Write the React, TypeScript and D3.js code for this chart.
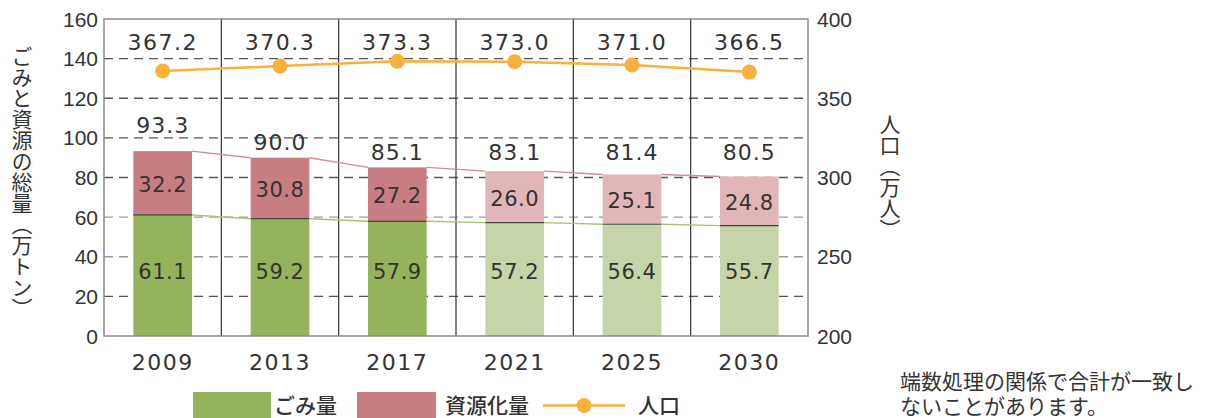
import React from 'react';
import * as d3 from 'd3';

const categories = ['2009', '2013', '2017', '2021', '2025', '2030'];
const gomi = [61.1, 59.2, 57.9, 57.2, 56.4, 55.7];
const shigen = [32.2, 30.8, 27.2, 26.0, 25.1, 24.8];
const totals = [93.3, 90.0, 85.1, 83.1, 81.4, 80.5];
const population = [367.2, 370.3, 373.3, 373.0, 371.0, 366.5];
const projected = [false, false, false, true, true, true];
const leftTicks = [0, 20, 40, 60, 80, 100, 120, 140, 160];
const rightTicks = [200, 250, 300, 350, 400];

const W = 1215, H = 418;
const M = { left: 104, right: 808, top: 19, bottom: 336 };

const C = {
  green: '#95b35b', greenLight: '#c5d5a7',
  red: '#c87d82', redLight: '#e2b6b8',
  orange: '#f9b13c', text: '#333333',
};

const NUM = '"DejaVu Sans", sans-serif';
const AX = '"Liberation Sans", Arial, sans-serif';
const JP = '"Noto Sans CJK JP", sans-serif';

export default function App() {
  const x = d3.scaleBand<string>().domain(categories).range([M.left, M.right]).paddingInner(0.5).paddingOuter(0.25);
  const y = d3.scaleLinear().domain([0, 160]).range([M.bottom, M.top]);
  const yR = d3.scaleLinear().domain([200, 400]).range([M.bottom, M.top]);
  const bw = x.bandwidth();
  const step = x.step();
  const cx = (c: string) => (x(c) as number) + bw / 2;

  const popLine = d3.line<number>().x((_, i) => cx(categories[i])).y(d => yR(d));

  const totalLabelY = (t: number) => {
    const base = Math.min(y(t) - 15, 152);
    const g = y(100);
    return Math.abs(base - g) < 3 ? g - 12 : base;
  };

  return (
    <svg width={W} height={H} style={{ position: 'absolute', left: 0, top: 0, background: '#fff' }}>
      {/* gridlines */}
      {leftTicks.filter(t => t > 0 && t < 160).map(t => (
        <line key={t} x1={M.left} x2={M.right} y1={y(t)} y2={y(t)}
          stroke={t === 40 || t === 60 ? '#999' : '#555'} strokeWidth={1.3} strokeDasharray="9,6" />
      ))}
      {/* separators */}
      {categories.slice(1).map(c => (
        <line key={c} x1={(x(c) as number) - (step - bw) / 2} x2={(x(c) as number) - (step - bw) / 2}
          y1={M.top} y2={M.bottom} stroke="#333" strokeWidth={1.2} />
      ))}
      {/* bars */}
      {categories.map((c, i) => (
        <g key={c}>
          <rect x={x(c)} width={bw} y={y(gomi[i])} height={y(0) - y(gomi[i])}
            fill={projected[i] ? C.greenLight : C.green} />
          <rect x={x(c)} width={bw} y={y(gomi[i] + shigen[i])} height={y(gomi[i]) - y(gomi[i] + shigen[i])}
            fill={projected[i] ? C.redLight : C.red} />
          <line x1={x(c)} x2={(x(c) as number) + bw} y1={y(gomi[i])} y2={y(gomi[i])} stroke="#444" strokeWidth={1.2} />
        </g>
      ))}
      {/* connectors */}
      {categories.slice(0, -1).map((c, i) => {
        const n = categories[i + 1];
        return (
          <g key={c}>
            <line x1={(x(c) as number) + bw} x2={x(n)} y1={y(gomi[i] + shigen[i])} y2={y(gomi[i + 1] + shigen[i + 1])}
              stroke="#d38c92" strokeWidth={1.4} />
            <line x1={(x(c) as number) + bw} x2={x(n)} y1={y(gomi[i])} y2={y(gomi[i + 1])}
              stroke="#a9c572" strokeWidth={1.4} />
          </g>
        );
      })}
      {/* frame */}
      <rect x={M.left} y={M.top} width={M.right - M.left} height={M.bottom - M.top} fill="none" stroke="#8a8a8a" strokeWidth={1.5} />
      {/* population */}
      <path d={popLine(population) as string} fill="none" stroke={C.orange} strokeWidth={2.5} />
      {population.map((p, i) => (
        <circle key={i} cx={cx(categories[i])} cy={yR(p)} r={7.5} fill={C.orange} />
      ))}
      {/* labels */}
      {categories.map((c, i) => (
        <g key={c} fill={C.text} textAnchor="middle" dominantBaseline="central">
          <text x={cx(c)} y={42} fontFamily={NUM} fontSize={22} letterSpacing={1.5}>{population[i].toFixed(1)}</text>
          <text x={cx(c)} y={totalLabelY(totals[i])} fontFamily={NUM} fontSize={22} letterSpacing={1}>{totals[i].toFixed(1)}</text>
          <text x={cx(c)} y={(y(gomi[i]) + y(gomi[i] + shigen[i])) / 2 + 2} fontFamily={NUM} fontSize={21} letterSpacing={0.5}>{shigen[i].toFixed(1)}</text>
          <text x={cx(c)} y={y(32.5)} fontFamily={NUM} fontSize={21} letterSpacing={0.5}>{gomi[i].toFixed(1)}</text>
          <text x={cx(c)} y={362} fontFamily={NUM} fontSize={22} letterSpacing={1.5}>{c}</text>
        </g>
      ))}
      {/* left axis */}
      {leftTicks.map(t => (
        <text key={t} x={98} y={y(t)} textAnchor="end" dominantBaseline="central" fontFamily={AX} fontSize={21} fill={C.text}>{t}</text>
      ))}
      {rightTicks.map(t => (
        <text key={t} x={817} y={yR(t)} textAnchor="start" dominantBaseline="central" fontFamily={AX} fontSize={21} fill={C.text}>{t}</text>
      ))}
      <text x={22} y={182} textAnchor="middle" fontFamily={JP} fontSize={21} fill={C.text}
        style={{ writingMode: 'vertical-rl' }}>ごみと資源の総量（万トン）</text>
      <text x={890} y={177} textAnchor="middle" fontFamily={JP} fontSize={21} fill={C.text}
        style={{ writingMode: 'vertical-rl' }}>人口（万人）</text>
      {/* legend */}
      <rect x={193} y={392} width={78} height={30} fill={C.green} />
      <text x={274} y={404} dominantBaseline="central" fontFamily={JP} fontSize={21} fontWeight={500} fill={C.text}>ごみ量</text>
      <rect x={357} y={392} width={79} height={30} fill={C.red} />
      <text x={445} y={404} dominantBaseline="central" fontFamily={JP} fontSize={21} fontWeight={500} fill={C.text}>資源化量</text>
      <line x1={543} x2={625} y1={405.5} y2={405.5} stroke={C.orange} strokeWidth={2.5} />
      <circle cx={584} cy={405.5} r={7.5} fill={C.orange} />
      <text x={638} y={404} dominantBaseline="central" fontFamily={JP} fontSize={21} fontWeight={500} fill={C.text}>人口</text>
      {/* note */}
      <text x={900} y={380} dominantBaseline="central" fontFamily={JP} fontSize={21} fill={C.text}>端数処理の関係で合計が一致し</text>
      <text x={900} y={405} dominantBaseline="central" fontFamily={JP} fontSize={21} fill={C.text}>ないことがあります。</text>
    </svg>
  );
}
